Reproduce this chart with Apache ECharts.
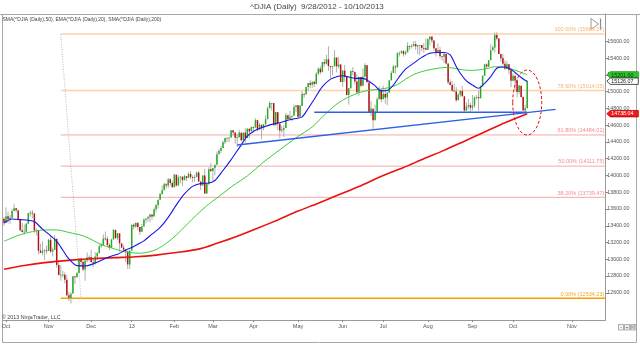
<!DOCTYPE html>
<html>
<head>
<meta charset="utf-8">
<title>^DJIA (Daily)</title>
<script src="https://cdn.jsdelivr.net/npm/echarts@6.0.0/dist/echarts.min.js"></script>
<style>
  html, body { margin: 0; padding: 0; background: #fff; }
  #chart { width: 640px; height: 344px; }
</style>
</head>
<body>
<div id="chart"></div>
<script>
// Daily sessions: date, open, close, low, high
const dailyBars = [
  ['2012-09-28',13485,13437,13400,13500],
  ['2012-10-01',13437,13515,13437,13620],['2012-10-02',13515,13482,13430,13567],['2012-10-03',13482,13495,13424,13528],
  ['2012-10-04',13495,13575,13494,13599],['2012-10-05',13576,13610,13576,13661],['2012-10-08',13610,13584,13560,13610],
  ['2012-10-09',13583,13474,13466,13592],['2012-10-10',13474,13345,13333,13474],['2012-10-11',13346,13326,13321,13434],
  ['2012-10-12',13326,13329,13295,13414],['2012-10-15',13329,13424,13323,13434],['2012-10-16',13424,13552,13424,13552],
  ['2012-10-17',13551,13557,13509,13580],['2012-10-18',13557,13549,13489,13588],['2012-10-19',13547,13344,13315,13547],
  ['2012-10-22',13344,13346,13285,13368],['2012-10-23',13344,13103,13059,13344],['2012-10-24',13103,13077,13071,13185],
  ['2012-10-25',13078,13104,13048,13213],['2012-10-26',13104,13107,12995,13121],['2012-10-31',13107,13096,13060,13164],
  ['2012-11-01',13099,13233,13099,13245],['2012-11-02',13232,13093,13074,13290],['2012-11-05',13092,13112,13033,13140],
  ['2012-11-06',13113,13246,13113,13290],['2012-11-07',13244,12933,12899,13244],['2012-11-08',12933,12811,12811,12972],
  ['2012-11-09',12811,12815,12743,12930],['2012-11-12',12815,12815,12783,12865],['2012-11-13',12814,12756,12713,12843],
  ['2012-11-14',12756,12571,12557,12812],['2012-11-15',12570,12542,12503,12612],['2012-11-16',12542,12588,12471,12604],
  ['2012-11-19',12590,12796,12590,12796],['2012-11-20',12795,12789,12703,12805],['2012-11-21',12788,12837,12777,12848],
  ['2012-11-23',12837,13010,12837,13010],['2012-11-26',13009,12967,12915,13009],['2012-11-27',12966,12878,12859,13002],
  ['2012-11-28',12877,12985,12743,12985],['2012-11-29',12985,13022,12962,13081],['2012-11-30',13022,13026,12976,13046],
  ['2012-12-03',13026,12966,12959,13114],['2012-12-04',12965,12952,12901,13008],['2012-12-05',12952,13034,12936,13086],
  ['2012-12-06',13034,13074,12987,13083],['2012-12-07',13073,13155,13073,13175],['2012-12-10',13155,13170,13139,13193],
  ['2012-12-11',13169,13248,13169,13297],['2012-12-12',13248,13245,13224,13331],['2012-12-13',13245,13171,13149,13274],
  ['2012-12-14',13170,13135,13111,13189],['2012-12-17',13135,13235,13135,13248],['2012-12-18',13236,13351,13236,13363],
  ['2012-12-19',13350,13252,13249,13355],['2012-12-20',13252,13312,13228,13312],['2012-12-21',13309,13191,13089,13309],
  ['2012-12-24',13190,13139,13136,13190],['2012-12-26',13139,13115,13089,13172],['2012-12-27',13114,13096,12964,13117],
  ['2012-12-28',13095,12938,12883,13095],['2012-12-31',12939,13104,12884,13104],
  ['2013-01-02',13104,13413,13104,13413],['2013-01-03',13413,13391,13359,13431],['2013-01-04',13392,13435,13375,13436],
  ['2013-01-07',13435,13384,13344,13435],['2013-01-08',13384,13329,13290,13384],['2013-01-09',13329,13391,13329,13422],
  ['2013-01-10',13391,13471,13391,13494],['2013-01-11',13471,13488,13431,13488],['2013-01-14',13488,13507,13448,13511],
  ['2013-01-15',13506,13535,13440,13542],['2013-01-16',13534,13511,13472,13535],['2013-01-17',13512,13596,13512,13619],
  ['2013-01-18',13596,13650,13559,13650],['2013-01-22',13649,13712,13606,13712],['2013-01-23',13712,13779,13712,13792],
  ['2013-01-24',13779,13825,13771,13879],['2013-01-25',13825,13896,13825,13915],['2013-01-28',13895,13882,13845,13910],
  ['2013-01-29',13881,13954,13849,13970],['2013-01-30',13954,13910,13880,13969],['2013-01-31',13911,13861,13851,13937],
  ['2013-02-01',13861,14010,13861,14019],['2013-02-04',14009,13880,13870,14009],['2013-02-05',13880,13979,13880,14003],
  ['2013-02-06',13979,13987,13906,13990],['2013-02-07',13986,13944,13870,13987],['2013-02-08',13944,13993,13944,14009],
  ['2013-02-11',13992,13971,13934,13992],['2013-02-12',13971,14019,13968,14041],['2013-02-13',14018,13983,13956,14051],
  ['2013-02-14',13982,13973,13918,14001],['2013-02-15',13973,13982,13925,14009],['2013-02-19',13982,14036,13980,14045],
  ['2013-02-20',14035,13928,13924,14058],['2013-02-21',13927,13881,13825,13936],['2013-02-22',13881,14001,13881,14001],
  ['2013-02-25',14000,13784,13784,14078],['2013-02-26',13784,13900,13784,13914],['2013-02-27',13900,14075,13886,14098],
  ['2013-02-28',14075,14054,14044,14149],
  ['2013-03-01',14054,14090,13937,14090],['2013-03-04',14089,14128,14003,14128],['2013-03-05',14128,14254,14128,14287],
  ['2013-03-06',14254,14296,14254,14314],['2013-03-07',14296,14329,14268,14354],['2013-03-08',14329,14397,14329,14414],
  ['2013-03-11',14397,14447,14376,14448],['2013-03-12',14446,14450,14398,14456],['2013-03-13',14450,14455,14395,14463],
  ['2013-03-14',14455,14539,14455,14539],['2013-03-15',14539,14514,14479,14540],['2013-03-18',14513,14452,14381,14513],
  ['2013-03-19',14452,14456,14341,14491],['2013-03-20',14456,14512,14456,14546],['2013-03-21',14511,14421,14407,14511],
  ['2013-03-22',14421,14512,14421,14512],['2013-03-25',14512,14448,14395,14563],['2013-03-26',14448,14560,14448,14560],
  ['2013-03-27',14559,14526,14447,14559],['2013-03-28',14527,14579,14527,14585],
  ['2013-04-01',14578,14573,14512,14584],['2013-04-02',14573,14662,14573,14684],['2013-04-03',14661,14550,14525,14667],
  ['2013-04-04',14550,14606,14547,14630],['2013-04-05',14605,14565,14434,14605],['2013-04-08',14565,14613,14538,14613],
  ['2013-04-09',14613,14673,14603,14719],['2013-04-10',14673,14802,14673,14826],['2013-04-11',14802,14865,14802,14888],
  ['2013-04-12',14864,14865,14774,14865],['2013-04-15',14864,14599,14599,14864],['2013-04-16',14600,14757,14600,14757],
  ['2013-04-17',14756,14619,14542,14756],['2013-04-18',14618,14537,14444,14624],['2013-04-19',14537,14548,14511,14591],
  ['2013-04-22',14547,14567,14460,14603],['2013-04-23',14567,14719,14567,14748],['2013-04-24',14719,14676,14663,14729],
  ['2013-04-25',14676,14701,14676,14770],['2013-04-26',14700,14713,14648,14713],['2013-04-29',14713,14819,14713,14847],
  ['2013-04-30',14818,14840,14757,14840],
  ['2013-05-01',14839,14701,14687,14839],['2013-05-02',14701,14832,14701,14844],['2013-05-03',14831,14974,14831,15009],
  ['2013-05-06',14973,14969,14925,14987],['2013-05-07',14969,15056,14969,15062],['2013-05-08',15056,15105,15007,15106],
  ['2013-05-09',15104,15083,15043,15139],['2013-05-10',15082,15118,15048,15119],['2013-05-13',15118,15092,15055,15129],
  ['2013-05-14',15091,15215,15091,15233],['2013-05-15',15215,15276,15194,15288],['2013-05-16',15275,15233,15210,15306],
  ['2013-05-17',15233,15354,15233,15355],['2013-05-20',15354,15335,15302,15392],['2013-05-21',15335,15388,15325,15441],
  ['2013-05-22',15387,15307,15250,15542],['2013-05-23',15306,15295,15165,15306],['2013-05-24',15294,15303,15195,15303],
  ['2013-05-28',15304,15409,15304,15496],['2013-05-29',15408,15303,15231,15408],['2013-05-30',15302,15325,15279,15413],
  ['2013-05-31',15324,15116,15116,15331],
  ['2013-06-03',15116,15254,15058,15254],['2013-06-04',15253,15178,15120,15319],['2013-06-05',15177,14961,14957,15177],
  ['2013-06-06',14961,15041,14844,15046],['2013-06-07',15041,15248,15041,15255],['2013-06-10',15248,15239,15196,15296],
  ['2013-06-11',15237,15122,15086,15237],['2013-06-12',15122,14995,14975,15213],['2013-06-13',14995,15176,14952,15182],
  ['2013-06-14',15176,15070,15052,15180],['2013-06-17',15071,15180,15071,15275],['2013-06-18',15179,15318,15179,15340],
  ['2013-06-19',15317,15112,15111,15318],['2013-06-20',15110,14758,14758,15110],['2013-06-21',14759,14799,14709,14889],
  ['2013-06-24',14797,14660,14551,14797],['2013-06-25',14660,14760,14660,14845],['2013-06-26',14761,14910,14761,14933],
  ['2013-06-27',14911,15024,14911,15067],['2013-06-28',15023,14910,14873,15023],
  ['2013-07-01',14911,14975,14911,15072],['2013-07-02',14974,14932,14858,15034],['2013-07-03',14931,14988,14838,15000],
  ['2013-07-05',14989,15136,14989,15138],['2013-07-08',15136,15225,15136,15248],['2013-07-09',15225,15300,15225,15324],
  ['2013-07-10',15300,15292,15217,15319],['2013-07-11',15291,15461,15291,15471],['2013-07-12',15460,15464,15420,15479],
  ['2013-07-15',15464,15484,15451,15497],['2013-07-16',15484,15452,15419,15497],['2013-07-17',15452,15471,15436,15491],
  ['2013-07-18',15470,15549,15470,15590],['2013-07-19',15547,15544,15497,15550],['2013-07-22',15544,15546,15513,15571],
  ['2013-07-23',15545,15568,15541,15604],['2013-07-24',15568,15542,15497,15607],['2013-07-25',15541,15556,15449,15559],
  ['2013-07-26',15555,15559,15435,15559],['2013-07-29',15558,15522,15484,15558],['2013-07-30',15522,15521,15464,15580],
  ['2013-07-31',15520,15500,15497,15634],
  ['2013-08-01',15500,15628,15500,15640],['2013-08-02',15627,15658,15553,15659],['2013-08-05',15658,15612,15580,15658],
  ['2013-08-06',15611,15519,15488,15611],['2013-08-07',15518,15471,15420,15518],['2013-08-08',15471,15498,15463,15574],
  ['2013-08-09',15498,15426,15394,15533],['2013-08-12',15425,15420,15371,15429],['2013-08-13',15419,15451,15343,15475],
  ['2013-08-14',15450,15338,15327,15450],['2013-08-15',15336,15112,15090,15336],['2013-08-16',15112,15081,15078,15149],
  ['2013-08-19',15081,15011,15004,15131],['2013-08-20',15011,15003,15002,15094],['2013-08-21',15002,14898,14877,15054],
  ['2013-08-22',14898,14964,14898,14984],['2013-08-23',14964,15011,14937,15011],['2013-08-26',15010,14946,14946,15069],
  ['2013-08-27',14945,14776,14761,14945],['2013-08-28',14776,14825,14773,14873],['2013-08-29',14825,14841,14789,14914],
  ['2013-08-30',14841,14810,14760,14870],
  ['2013-09-03',14810,14834,14777,14962],['2013-09-04',14833,14931,14811,14943],['2013-09-05',14931,14937,14908,14961],
  ['2013-09-06',14937,14923,14775,15010],['2013-09-09',14922,15063,14922,15075],['2013-09-10',15064,15191,15064,15196],
  ['2013-09-11',15191,15327,15187,15327],['2013-09-12',15326,15301,15278,15340],['2013-09-13',15300,15376,15293,15376],
  ['2013-09-16',15376,15495,15376,15567],['2013-09-17',15494,15530,15494,15549],['2013-09-18',15529,15677,15467,15707],
  ['2013-09-19',15677,15637,15612,15710],['2013-09-20',15636,15451,15451,15636],['2013-09-23',15451,15401,15357,15451],
  ['2013-09-24',15402,15335,15311,15450],['2013-09-25',15335,15273,15262,15375],['2013-09-26',15273,15328,15273,15366],
  ['2013-09-27',15328,15258,15210,15328],['2013-09-30',15256,15130,15054,15256],
  ['2013-10-01',15130,15192,15123,15222],['2013-10-02',15191,15133,15021,15191],['2013-10-03',15133,14996,14933,15158],
  ['2013-10-04',14996,15073,14972,15080],['2013-10-07',15072,14936,14930,15072],['2013-10-08',14936,14777,14777,14946],
  ['2013-10-09',14777,14803,14719,14846],['2013-10-10',14803,15126.07,14803,15135]
];

// Moving averages, sampled as [session number, value]
const ema20 = [
  [0,13433],[4,13480],[8,13473],[12,13465],[15,13450],[19,13360],[23,13280],[26,13214],[29,13110],[31,13035],
  [34,12955],[36,12924],[40,12920],[44,12945],[47,12975],[52,13030],[56,13060],[60,13110],[63,13140],[66,13180],
  [69,13220],[73,13300],[77,13380],[81,13500],[85,13650],[89,13780],[93,13870],[97,13905],[101,13910],[104,13940],
  [108,14060],[112,14190],[116,14330],[120,14470],[124,14540],[128,14580],[132,14610],[136,14630],[140,14660],[144,14680],
  [147,14700],[150,14800],[153,14910],[157,15060],[161,15150],[164,15180],[167,15190],[170,15175],[173,15160],[177,15160],
  [180,15125],[183,15070],[186,15010],[189,15015],[192,15080],[195,15181],[198,15270],[202,15341],[206,15410],[210,15460],
  [214,15468],[217,15468],[220,15439],[223,15300],[225,15221],[228,15130],[231,15080],[234,15042],[237,15100],[240,15180],
  [243,15281],[246,15295],[249,15280],[252,15230],[255,15170],[258,15122]
];
const sma50 = [
  [0,13214],[7,13285],[14,13330],[20,13350],[26,13350],[32,13320],[39,13280],[44,13225],[48,13175],[53,13135],
  [57,13105],[62,13080],[67,13072],[71,13085],[75,13115],[80,13190],[85,13290],[90,13410],[95,13530],[100,13640],
  [106,13750],[113,13880],[120,13995],[128,14160],[136,14307],[144,14450],[152,14580],[157,14700],[161,14790],[165,14870],
  [169,14925],[173,14970],[177,15002],[181,15020],[185,15030],[190,15050],[194,15085],[198,15150],[202,15205],[206,15240],
  [210,15263],[214,15280],[218,15290],[222,15280],[226,15262],[230,15255],[234,15260],[238,15275],[242,15298],[246,15295],
  [250,15272],[254,15240],[258,15201.60]
];
const sma200 = [
  [0,12880],[10,12925],[20,12960],[33,12990],[45,13010],[55,13020],[65,13030],[75,13050],[85,13080],[97,13127],
  [105,13190],[115,13275],[125,13370],[135,13470],[145,13575],[155,13670],[165,13770],[175,13870],[187,14000],[197,14095],
  [207,14200],[217,14300],[227,14410],[237,14520],[247,14630],[258,14738.04]
];

// Fibonacci retracement levels: [ratio, price]
const fibLevels = [
  [1.000, 15689.27], [0.786, 15014.05], [0.618, 14484.02],
  [0.500, 14111.75], [0.382, 13739.47], [0.000, 12534.23]
];
// Retracement anchors: [session, price] for the 100% and 0% ends
const fibAnchors = [[27.9, 15689.27], [37.5, 12534.23]];

// Hand-drawn trend lines: [session1, price1, session2, price2]
const trendLines = [
  [114.75, 14364, 271.7, 14790],
  [153.4, 14755, 257.9, 14755]
];
// Highlight ellipse: [centre session, centre price, half-width in sessions, half-height in points]
const highlightEllipse = [[257.9, 14871, 7.15, 388]];

// Price axis ticks
const priceTicks = [12400,12600,12800,13000,13200,13400,13600,13800,14000,14200,14400,14600,14800,15000,15200,15400,15600,15800];

const FONT = '"Liberation Sans", Arial, sans-serif';

// Category slots: trading sessions plus empty calendar days on the right
const sessionDates = dailyBars.map(b => b[0]);
const axisDates = sessionDates.slice();
(function () {
  const d = new Date(Date.UTC(2013, 9, 10));
  for (let k = 0; k < 38; k++) {
    d.setUTCDate(d.getUTCDate() + 1);
    axisDates.push(d.toISOString().slice(0, 10));
  }
})();
const MONTHS = ['Jan','Feb','Mar','Apr','May','Jun','Jul','Aug','Sep','Oct','Nov','Dec'];
function isMonthStart(i) {
  return i > 0 && axisDates[i].slice(0, 7) !== axisDates[i - 1].slice(0, 7);
}
function monthLabel(v) {
  const m = +v.slice(5, 7) - 1;
  return m === 0 ? v.slice(2, 4) : MONTHS[m];
}

const candleData = dailyBars.map((b, i) => [i, b[1], b[2], b[3], b[4]]);
const lastClose = dailyBars[dailyBars.length - 1][2];
const axisTags = [
  { value: sma50[sma50.length - 1][1], fill: '#2ec42e', stroke: '#1a9a1a', text: '#0b3d0b' },
  { value: lastClose, fill: '#ffffff', stroke: '#222222', text: '#222222' },
  { value: sma200[sma200.length - 1][1], fill: '#ee1c1c', stroke: '#b00000', text: '#ffffff' }
];

function fibStyle(ratio) {
  if (ratio === 0) return { line: '#f5a000', text: '#f5a623', width: 1.4 };
  if (ratio >= 0.75) return { line: '#fcd2ad', text: '#f7b273', width: 1.5 };
  return { line: '#f6a9a9', text: '#ef8d8d', width: 1 };
}

const chart = echarts.init(document.getElementById('chart'), null, { renderer: 'canvas' });

const option = {
  animation: false,
  backgroundColor: '#ffffff',
  textStyle: { fontFamily: FONT },
  grid: { left: 2.96, right: 34.7, top: 14, bottom: 24, containLabel: false, outerBoundsMode: 'none' },
  xAxis: {
    type: 'category',
    data: axisDates,
    boundaryGap: true,
    axisLine: { show: true, lineStyle: { color: '#9a9a9a', width: 1 } },
    axisTick: { show: true, alignWithLabel: true, interval: (i) => isMonthStart(i), length: 2, lineStyle: { color: '#8a8a8a' } },
    axisLabel: { interval: (i) => isMonthStart(i), formatter: monthLabel, fontSize: 5.5, color: '#555', margin: 3, fontFamily: FONT },
    splitLine: { show: false }
  },
  yAxis: {
    type: 'value',
    position: 'right',
    min: 12275,
    max: 15928,
    minInterval: 200,
    maxInterval: 200,
    splitNumber: 18,
    scale: true,
    axisLine: { show: true, lineStyle: { color: '#9a9a9a', width: 1 } },
    axisTick: { show: true, inside: false, length: 3, lineStyle: { color: '#8a8a8a' }, customValues: priceTicks },
    axisLabel: {
      customValues: priceTicks,
      showMinLabel: false, showMaxLabel: false,
      formatter: (v) => Number(v).toFixed(2),
      fontSize: 5.3, color: '#555', margin: 2, fontFamily: FONT
    },
    splitLine: { show: false }
  },
  series: [
    {
      name: 'Fibonacci',
      type: 'custom',
      z: 1,
      clip: false,
      silent: true,
      data: fibLevels.map(f => [fibAnchors[0][0], f[1], f[0]]),
      encode: { x: 0, y: 1 },
      renderItem: function (params, api) {
        const cs = params.coordSys;
        const p = api.coord([api.value(0), api.value(1)]);
        const ratio = api.value(2);
        const st = fibStyle(ratio);
        const x2 = cs.x + cs.width;
        const label = (ratio * 100).toFixed(2) + '% (' + api.value(1).toFixed(2) + ')';
        return {
          type: 'group',
          children: [
            { type: 'line', shape: { x1: p[0], y1: p[1], x2: x2, y2: p[1] }, style: { stroke: st.line, lineWidth: st.width } },
            { type: 'text', style: { x: x2 - 1, y: p[1] - 1.2, text: label, fill: st.text, fontSize: 5.5, fontFamily: FONT, align: 'right', verticalAlign: 'bottom' } }
          ]
        };
      }
    },
    {
      name: 'Anchor',
      type: 'custom',
      z: 1,
      silent: true,
      data: [[fibAnchors[0][0], fibAnchors[0][1], fibAnchors[1][0], fibAnchors[1][1]]],
      encode: { x: [0, 2], y: [1, 3] },
      renderItem: function (params, api) {
        const a = api.coord([api.value(0), api.value(1)]);
        const b = api.coord([api.value(2), api.value(3)]);
        return { type: 'line', shape: { x1: a[0], y1: a[1], x2: b[0], y2: b[1] }, style: { stroke: '#a8a8a8', lineWidth: 0.8, lineDash: [1, 1.5] } };
      }
    },
    {
      name: '^DJIA',
      type: 'custom',
      z: 2,
      silent: true,
      data: candleData,
      encode: { x: 0, y: [1, 2, 3, 4] },
      renderItem: function (params, api) {
        const i = api.value(0);
        const o = api.value(1), c = api.value(2), l = api.value(3), h = api.value(4);
        const pO = api.coord([i, o]), pC = api.coord([i, c]);
        const pL = api.coord([i, l]), pH = api.coord([i, h]);
        const band = api.size([1, 0])[0];
        const w = band * 0.72;
        const x = pO[0];
        const top = Math.min(pO[1], pC[1]);
        const hgt = Math.max(Math.abs(pO[1] - pC[1]), 0.8);
        const up = c >= o;
        return {
          type: 'group',
          children: [
            { type: 'line', shape: { x1: x, y1: pH[1], x2: x, y2: pL[1] }, style: { stroke: '#9c9c9c', lineWidth: 0.8 } },
            { type: 'rect', shape: { x: x - w / 2, y: top, width: w, height: hgt }, style: { fill: up ? '#22ad22' : '#b31010' } }
          ]
        };
      }
    },
    {
      name: 'SMA(^DJIA (Daily),200)', type: 'line', z: 3, data: sma200, showSymbol: false, smooth: 0.3,
      lineStyle: { color: '#e8130f', width: 1.6 }, silent: true
    },
    {
      name: 'SMA(^DJIA (Daily),50)', type: 'line', z: 3, data: sma50, showSymbol: false, smooth: 0.3,
      lineStyle: { color: '#3ccc3c', width: 1 }, silent: true
    },
    {
      name: 'EMA(^DJIA (Daily),20)', type: 'line', z: 3, data: ema20, showSymbol: false, smooth: 0.3,
      lineStyle: { color: '#1616e6', width: 1.1 }, silent: true
    },
    {
      name: 'Trend lines',
      type: 'custom',
      z: 4,
      clip: false,
      silent: true,
      data: trendLines,
      encode: { x: [0, 2], y: [1, 3] },
      renderItem: function (params, api) {
        const a = api.coord([api.value(0), api.value(1)]);
        const b = api.coord([api.value(2), api.value(3)]);
        return { type: 'line', shape: { x1: a[0], y1: a[1], x2: b[0], y2: b[1] }, style: { stroke: '#2d5fe8', lineWidth: 1.3 } };
      }
    },
    {
      name: 'Highlight',
      type: 'custom',
      z: 4,
      clip: false,
      silent: true,
      data: highlightEllipse,
      encode: { x: 0, y: 1 },
      renderItem: function (params, api) {
        const cx = api.value(0), cy = api.value(1);
        const centre = api.coord([cx, cy]);
        const top = api.coord([cx, cy + api.value(3)]);
        const rx = api.size([1, 0])[0] * api.value(2);
        const ry = Math.abs(centre[1] - top[1]);
        return { type: 'ellipse', shape: { cx: centre[0], cy: centre[1], rx: rx, ry: ry }, style: { fill: 'none', stroke: '#e01515', lineWidth: 1, lineDash: [3, 2] } };
      }
    },
    {
      name: 'Axis tags',
      type: 'custom',
      z: 6,
      clip: false,
      silent: true,
      data: axisTags.map((t, k) => [258, t.value, k]),
      encode: { x: 0, y: 1 },
      renderItem: function (params, api) {
        const cs = params.coordSys;
        const t = axisTags[api.value(2)];
        const y = api.coord([0, api.value(1)])[1];
        const x0 = cs.x + cs.width + 1.5;
        const hh = 3.2;
        return {
          type: 'group',
          children: [
            { type: 'polygon', shape: { points: [[x0, y], [x0 + 3.5, y - hh], [x0 + 31.5, y - hh], [x0 + 31.5, y + hh], [x0 + 3.5, y + hh]] },
              style: { fill: t.fill, stroke: t.stroke, lineWidth: 0.8 } },
            { type: 'text', style: { x: x0 + 4.5, y: y + 0.2, text: api.value(1).toFixed(2), fill: t.text, fontSize: 5.3, fontFamily: FONT, verticalAlign: 'middle' } }
          ]
        };
      }
    }
  ],
  graphic: [
    { type: 'rect', silent: true, z: 0, shape: { x: 2.5, y: 14.5, width: 634, height: 328 }, style: { fill: 'none', stroke: '#a8a8a8', lineWidth: 1 } },
    { type: 'line', silent: true, shape: { x1: 0, y1: 14.5, x2: 640, y2: 14.5 }, style: { stroke: '#a8a8a8', lineWidth: 1 } },
    { type: 'text', silent: true, style: { x: 317, y: 7, text: '^DJIA (Daily)  9/28/2012 - 10/10/2013', fill: '#444', fontSize: 8, fontFamily: FONT, align: 'center', verticalAlign: 'middle' } },
    { type: 'text', silent: true, style: { x: 2.5, y: 20, text: 'SMA(^DJIA (Daily),50), EMA(^DJIA (Daily),20), SMA(^DJIA (Daily),200)', fill: '#444', fontSize: 5, fontFamily: FONT, verticalAlign: 'middle' } },
    { type: 'text', silent: true, style: { x: 2, y: 317.3, text: '\u00a9 2013 NinjaTrader, LLC', fill: '#444', fontSize: 5.3, fontFamily: FONT, verticalAlign: 'middle' } },
    // scroll-to-end button in the top right of the price panel
    { type: 'polygon', silent: true, shape: { points: [[591, 18.5], [598.5, 24], [591, 29.5]] }, style: { fill: '#fff', stroke: '#8c8c8c', lineWidth: 0.9 } },
    { type: 'line', silent: true, shape: { x1: 600.5, y1: 18.5, x2: 600.5, y2: 29.5 }, style: { stroke: '#8c8c8c', lineWidth: 1.2 } },
    // zoom buttons, bottom right
    { type: 'rect', silent: true, shape: { x: 618.5, y: 324.5, width: 5, height: 5.5 }, style: { fill: '#f4f4f4', stroke: '#8c8c8c', lineWidth: 0.7 } },
    { type: 'rect', silent: true, shape: { x: 624.5, y: 324.5, width: 5, height: 5.5 }, style: { fill: '#f4f4f4', stroke: '#8c8c8c', lineWidth: 0.7 } },
    { type: 'rect', silent: true, shape: { x: 630.5, y: 324.5, width: 5.5, height: 5.5 }, style: { fill: '#f4f4f4', stroke: '#8c8c8c', lineWidth: 0.7 } },
    { type: 'text', silent: true, style: { x: 621, y: 327.4, text: '-', fill: '#555', fontSize: 5, fontFamily: FONT, align: 'center', verticalAlign: 'middle' } },
    { type: 'text', silent: true, style: { x: 627, y: 327.4, text: '+', fill: '#555', fontSize: 5, fontFamily: FONT, align: 'center', verticalAlign: 'middle' } },
    { type: 'text', silent: true, style: { x: 633.2, y: 327.4, text: 'M', fill: '#555', fontSize: 4.5, fontFamily: FONT, align: 'center', verticalAlign: 'middle' } }
  ]
};

chart.setOption(option);
</script>
</body>
</html>
